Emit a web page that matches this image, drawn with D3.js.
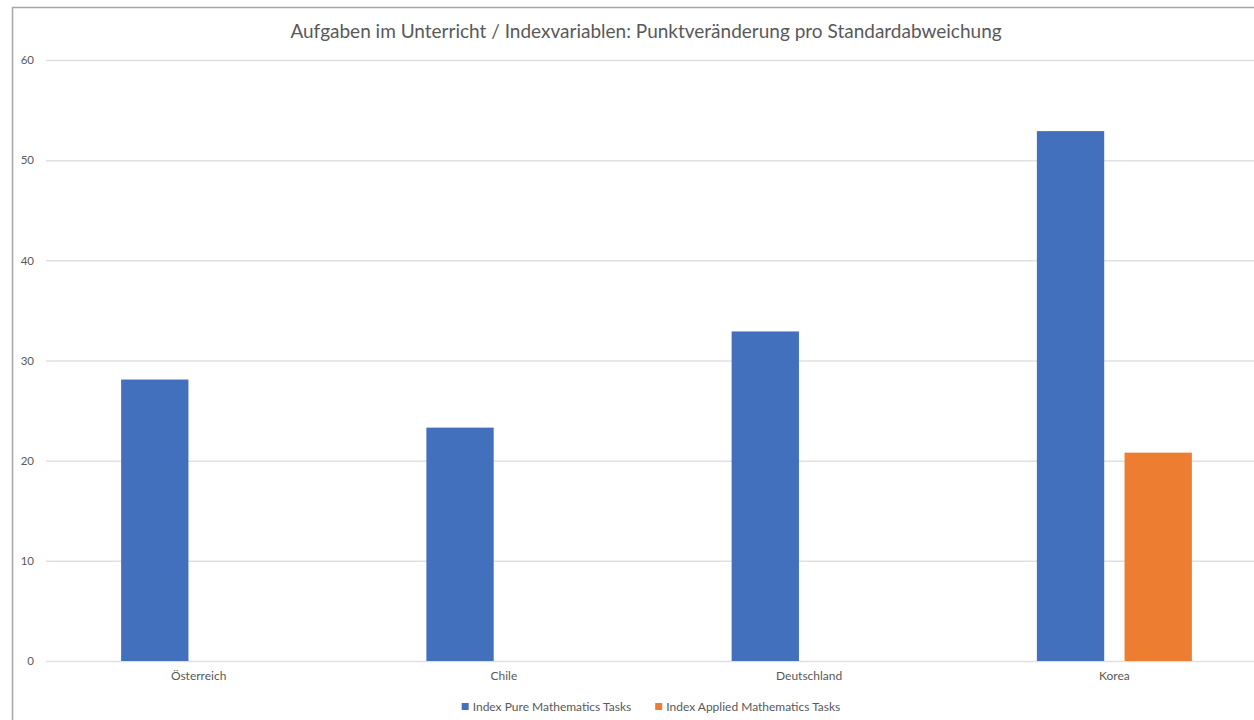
<!DOCTYPE html>
<html><head><meta charset="utf-8">
<script src="https://cdn.jsdelivr.net/npm/d3@7"></script>
<style>html,body{margin:0;background:#fff;overflow:hidden}svg{display:block}</style>
</head><body>
<script>
const categories = ["Österreich", "Chile", "Deutschland", "Korea"];
const seriesNames = ["Index Pure Mathematics Tasks", "Index Applied Mathematics Tasks"];
const pureValues = [28.1, 23.3, 32.9, 52.9];
const appliedValues = [null, null, null, 20.8];
const yTicks = [0, 10, 20, 30, 40, 50, 60];
const colors = ["#4270BC", "#ED7D31"];

const W = 1254, H = 720;
const svg = d3.select("body").append("svg").attr("width", W).attr("height", H);
const font = "Lato, 'Open Sans', sans-serif";
const textColor = "#595959";

// frame (left and top edges visible)
svg.append("path").attr("d", `M12.5,${H} V7.5 H${W}`)
  .attr("fill", "none").attr("stroke", "#a6a6a6").attr("stroke-width", 1.5);

const x0 = d3.scaleBand().domain(categories).range([46, 1267]).paddingInner(0).paddingOuter(0);
const groupW = 155;
const x1 = d3.scaleBand().domain(seriesNames).range([0, groupW]).paddingInner(18/155*2).paddingOuter(0);
const y = d3.scaleLinear().domain([0, 60]).range([661, 60]);

// gridlines
svg.append("g").selectAll("line").data(yTicks).join("line")
  .attr("x1", 46).attr("x2", 1267)
  .attr("y1", d => y(d) + 0.5).attr("y2", d => y(d) + 0.5)
  .attr("stroke", "#e0e0e0").attr("stroke-width", 1.5);

// y axis labels
const yAxis = d3.axisLeft(y).tickValues(yTicks).tickSize(0).tickPadding(0);
const gy = svg.append("g").attr("transform", "translate(34,0)").call(yAxis);
gy.select(".domain").remove();
gy.selectAll("text").attr("font-family", font).attr("font-size", 11.5).attr("fill", textColor);

// bars
const data = categories.map((c, i) => ({cat: c, vals: [pureValues[i], appliedValues[i]]}));
const groups = svg.append("g").selectAll("g").data(data).join("g")
  .attr("transform", d => `translate(${x0(d.cat) + (x0.bandwidth() - groupW) / 2},0)`);
groups.selectAll("rect").data(d => d.vals.map((v, j) => ({v, s: seriesNames[j], j})).filter(e => e.v != null))
  .join("rect")
  .attr("x", e => x1(e.s)).attr("width", x1.bandwidth())
  .attr("y", e => y(e.v)).attr("height", e => y(0) - y(e.v))
  .attr("fill", e => colors[e.j]);

// x axis labels
const xAxis = d3.axisBottom(x0).tickSize(0).tickPadding(0);
const gx = svg.append("g").attr("transform", "translate(0,671)").call(xAxis);
gx.select(".domain").remove();
gx.selectAll("text").attr("font-family", font).attr("font-size", 12).attr("fill", textColor);

// title
svg.append("text").attr("x", 646).attr("y", 38).attr("text-anchor", "middle")
  .attr("font-family", font).attr("font-size", 19).attr("fill", textColor)
  .text("Aufgaben im Unterricht / Indexvariablen: Punktveränderung pro Standardabweichung");

// legend
const lg = svg.append("g").attr("transform", "translate(0,707)");
const items = lg.selectAll("g").data(seriesNames).join("g");
items.append("rect").attr("y", -4).attr("width", 7).attr("height", 7).attr("fill", (d, i) => colors[i]);
items.append("text").attr("x", 11).attr("y", 4).attr("font-family", font).attr("font-size", 12)
  .attr("fill", textColor).text(d => d);
let cx = 0;
const widths = [];
items.each(function() { widths.push(this.getBBox().width); });
const total = d3.sum(widths) + 24 * (widths.length - 1);
cx = 651 - total / 2;
items.attr("transform", (d, i) => {
  const t = `translate(${cx},0)`; cx += widths[i] + 24; return t;
});
</script>
</body></html>
